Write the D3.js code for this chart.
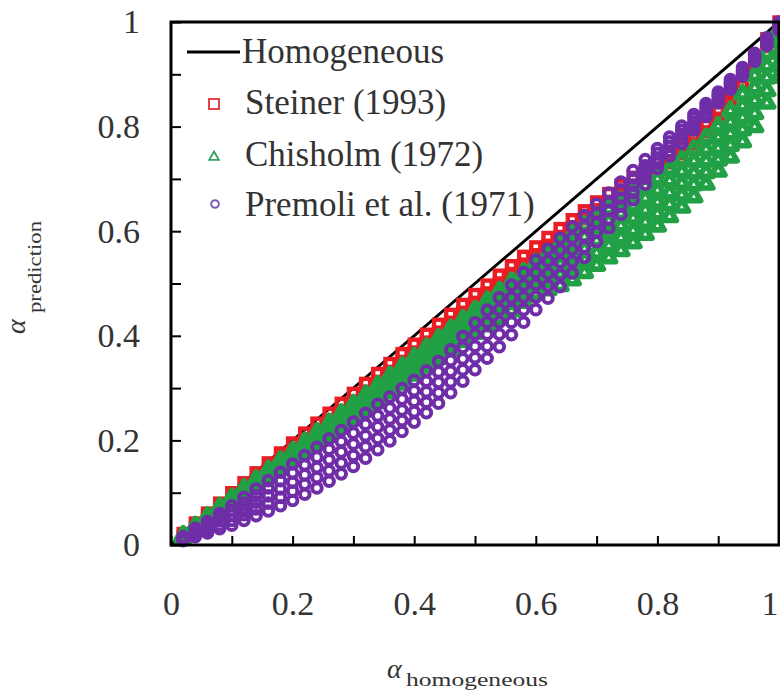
<!DOCTYPE html>
<html><head><meta charset="utf-8">
<script src="https://cdn.jsdelivr.net/npm/d3@7"></script>
<style>body{margin:0;background:#fff;} svg{display:block;}</style>
</head><body>
<svg id="chart" width="780" height="696"></svg>
<script>
// ---------- data ----------
const xGrid = [0.02,0.04,0.06,0.08,0.10,0.12,0.14,0.16,0.18,0.20,0.22,0.24,0.26,0.28,0.30,0.32,0.34,0.36,0.38,0.40,0.42,0.44,0.46,0.48,0.50,0.52,0.54,0.56,0.58,0.60,0.62,0.64,0.66,0.68,0.70,0.72,0.74,0.76,0.78,0.80,0.82,0.84,0.86,0.88,0.90,0.92,0.94,0.96,0.98,1.00];

const steinerUpper = [0.022,0.042,0.061,0.080,0.100,0.119,0.138,0.157,0.176,0.195,0.214,0.233,0.252,0.271,0.290,0.309,0.328,0.347,0.366,0.384,0.403,0.422,0.441,0.460,0.479,0.497,0.516,0.534,0.552,0.570,0.588,0.605,0.622,0.639,0.656,0.672,0.688,0.703,0.717,0.731,0.746,0.763,0.782,0.805,0.831,0.861,0.895,0.932,0.968,1.000];
const steinerLower = [0.015,0.032,0.050,0.068,0.086,0.104,0.123,0.142,0.161,0.180,0.199,0.218,0.237,0.256,0.275,0.294,0.313,0.332,0.351,0.369,0.388,0.407,0.426,0.445,0.464,0.482,0.501,0.519,0.537,0.555,0.573,0.590,0.607,0.624,0.641,0.657,0.673,0.688,0.702,0.716,0.731,0.748,0.767,0.790,0.816,0.846,0.880,0.917,0.953,0.990];

const chisholmRow1 = [0.014,0.030,0.046,0.063,0.080,0.096,0.112,0.128,0.145,0.162,0.177,0.193,0.208,0.224,0.240,0.257,0.274,0.291,0.308,0.325,0.341,0.357,0.373,0.389,0.405,0.419,0.433,0.448,0.464,0.480,0.488,0.496,0.507,0.521,0.535,0.549,0.563,0.578,0.594,0.610,0.628,0.646,0.666,0.690,0.715,0.742,0.771,0.800,0.845,0.895];
const chisholmRow2 = [0.015,0.032,0.048,0.065,0.083,0.099,0.115,0.132,0.149,0.166,0.182,0.199,0.214,0.231,0.247,0.265,0.282,0.299,0.316,0.334,0.350,0.367,0.383,0.400,0.416,0.431,0.446,0.462,0.478,0.495,0.505,0.516,0.529,0.544,0.558,0.572,0.587,0.601,0.617,0.633,0.651,0.669,0.689,0.712,0.736,0.764,0.794,0.825,0.869,0.918];
const chisholmRow3 = [0.016,0.033,0.050,0.068,0.085,0.102,0.119,0.136,0.153,0.171,0.187,0.204,0.221,0.238,0.255,0.272,0.290,0.307,0.325,0.342,0.359,0.376,0.393,0.410,0.427,0.443,0.459,0.476,0.493,0.510,0.523,0.536,0.550,0.566,0.582,0.596,0.610,0.625,0.640,0.655,0.673,0.691,0.711,0.734,0.758,0.786,0.817,0.849,0.893,0.940];
const chisholmRow4 = [0.017,0.035,0.052,0.070,0.088,0.105,0.122,0.139,0.157,0.175,0.192,0.210,0.227,0.244,0.262,0.280,0.297,0.315,0.333,0.351,0.368,0.386,0.403,0.421,0.438,0.455,0.472,0.489,0.507,0.524,0.540,0.555,0.572,0.589,0.605,0.619,0.634,0.648,0.663,0.678,0.696,0.714,0.734,0.756,0.779,0.808,0.839,0.874,0.916,0.963];
const chisholmRow5 = [0.018,0.036,0.054,0.072,0.090,0.108,0.125,0.143,0.161,0.179,0.197,0.215,0.233,0.251,0.269,0.287,0.305,0.323,0.341,0.359,0.377,0.395,0.413,0.431,0.449,0.467,0.485,0.503,0.521,0.539,0.557,0.575,0.593,0.611,0.628,0.642,0.657,0.671,0.686,0.700,0.718,0.736,0.756,0.778,0.800,0.830,0.862,0.898,0.940,0.985];

const premoliRow1 = [0.008,0.016,0.023,0.031,0.038,0.047,0.056,0.065,0.075,0.085,0.097,0.109,0.122,0.136,0.150,0.166,0.182,0.199,0.217,0.235,0.253,0.271,0.291,0.313,0.335,0.357,0.379,0.402,0.426,0.450,0.472,0.494,0.520,0.550,0.580,0.606,0.632,0.660,0.690,0.720,0.744,0.768,0.793,0.819,0.845,0.871,0.897,0.925,0.955,0.985];
const premoliRow2 = [0.010,0.020,0.029,0.038,0.047,0.058,0.069,0.080,0.091,0.103,0.116,0.129,0.142,0.157,0.171,0.188,0.204,0.220,0.238,0.255,0.273,0.291,0.312,0.335,0.358,0.380,0.403,0.426,0.450,0.474,0.496,0.517,0.542,0.570,0.598,0.623,0.648,0.674,0.702,0.730,0.753,0.776,0.801,0.825,0.850,0.876,0.901,0.929,0.959,0.989];
const premoliRow3 = [0.012,0.024,0.034,0.046,0.057,0.069,0.082,0.094,0.107,0.120,0.134,0.148,0.163,0.178,0.193,0.209,0.226,0.241,0.258,0.275,0.293,0.311,0.332,0.356,0.380,0.403,0.426,0.450,0.474,0.498,0.519,0.541,0.565,0.590,0.616,0.640,0.663,0.688,0.714,0.739,0.762,0.785,0.808,0.832,0.856,0.881,0.905,0.933,0.963,0.993];
const premoliRow4 = [0.014,0.028,0.040,0.053,0.066,0.080,0.094,0.109,0.123,0.138,0.153,0.168,0.183,0.198,0.214,0.231,0.247,0.262,0.279,0.295,0.313,0.331,0.353,0.378,0.403,0.426,0.450,0.473,0.497,0.521,0.543,0.564,0.587,0.610,0.634,0.656,0.679,0.702,0.725,0.749,0.771,0.793,0.816,0.838,0.861,0.885,0.909,0.936,0.966,0.996];
const premoliRow5 = [0.016,0.032,0.045,0.060,0.075,0.091,0.107,0.123,0.139,0.155,0.171,0.187,0.203,0.219,0.235,0.252,0.269,0.283,0.299,0.315,0.333,0.351,0.373,0.399,0.425,0.449,0.473,0.497,0.521,0.545,0.566,0.587,0.609,0.630,0.652,0.673,0.694,0.716,0.737,0.758,0.780,0.801,0.823,0.844,0.866,0.890,0.913,0.940,0.970,1.000];

const homogeneousX = [0, 1];
const homogeneousY = [0, 1];

const axisTicks = [0,0.1,0.2,0.3,0.4,0.5,0.6,0.7,0.8,0.9,1.0];
const majorTicks = [0,0.2,0.4,0.6,0.8,1.0];
const majorLabels = ["0","0.2","0.4","0.6","0.8","1"];

const seriesNames = ["Homogeneous","Steiner (1993)","Chisholm (1972)","Premoli et al. (1971)"];

// ---------- drawing ----------
const svg = d3.select('#chart');
const FONT = '"Liberation Serif","Times New Roman",serif';
const TXT = '#333';
const RED = '#ea1c24', GREEN = '#22a045', PURPLE = '#6f2da8';

const x = d3.scaleLinear().domain([0,1]).range([171,779]);
const y = d3.scaleLinear().domain([0,1]).range([545,22]);

function labelFor(d){
  const i = majorTicks.findIndex(m => Math.abs(m-d) < 1e-9);
  return i >= 0 ? majorLabels[i] : '';
}

// axes
const gx = svg.append('g').attr('transform','translate(0,545)')
  .call(d3.axisBottom(x).tickValues(axisTicks).tickSize(-9).tickPadding(46).tickFormat(labelFor));
const gy = svg.append('g').attr('transform','translate(171,0)')
  .call(d3.axisLeft(y).tickValues(axisTicks).tickSize(-10).tickPadding(31).tickFormat(labelFor));
[gx, gy].forEach(g => {
  g.select('.domain').remove();
  g.selectAll('.tick line').attr('stroke','#000').attr('stroke-width',2);
  g.selectAll('.tick text').attr('fill',TXT).style('font-family',FONT).style('font-size','34px');
});
// keep the last x label fully inside the picture
gx.selectAll('.tick text').filter(d => d === 1).attr('text-anchor','end').attr('dx','-1');

// homogeneous line
const lineGen = d3.line().x(d => x(d[0])).y(d => y(d[1]));
svg.append('path')
  .datum(homogeneousX.map((v,i)=>[v, homogeneousY[i]]))
  .attr('d', lineGen).attr('fill','none').attr('stroke','#000').attr('stroke-width',3);

function rowsToPoints(rows){
  return rows.flatMap(r => xGrid.map((xv,i) => [xv, r[i]]));
}

const gPts = svg.append('g');
// Steiner: open squares
gPts.append('g').selectAll('rect')
  .data(rowsToPoints([steinerLower, steinerUpper]))
  .join('rect')
  .attr('x', d => x(d[0]) - 4.5).attr('y', d => y(d[1]) - 4.5)
  .attr('width', 9).attr('height', 9)
  .attr('fill','none').attr('stroke', RED).attr('stroke-width', 4.4);

// Chisholm: open triangles
const tri = d3.symbol().type(d3.symbolTriangle).size(80);
gPts.append('g').selectAll('path')
  .data(rowsToPoints([chisholmRow1, chisholmRow2, chisholmRow3, chisholmRow4, chisholmRow5]))
  .join('path')
  .attr('d', tri)
  .attr('transform', d => `translate(${x(d[0])},${y(d[1])})`)
  .attr('fill','none').attr('stroke', GREEN).attr('stroke-width', 5.6)
  .attr('stroke-linejoin','round');

// Premoli: open circles
gPts.append('g').selectAll('circle')
  .data(rowsToPoints([premoliRow1, premoliRow2, premoliRow3, premoliRow4, premoliRow5]))
  .join('circle')
  .attr('cx', d => x(d[0])).attr('cy', d => y(d[1])).attr('r', 4.8)
  .attr('fill','none').attr('stroke', PURPLE).attr('stroke-width', 4);

// frame
svg.append('rect').attr('x',171).attr('y',22).attr('width',608).attr('height',523)
  .attr('fill','none').attr('stroke','#000').attr('stroke-width',3);

// legend
const lg = svg.append('g').style('font-family',FONT).style('font-size','35px').attr('fill',TXT);
lg.append('line').attr('x1',187).attr('x2',240).attr('y1',52).attr('y2',52)
  .attr('stroke','#000').attr('stroke-width',3);
lg.append('text').attr('x',242).attr('y',63).text(seriesNames[0]);
lg.append('rect').attr('x',209).attr('y',99).attr('width',10).attr('height',10)
  .attr('fill','none').attr('stroke','#e4434a').attr('stroke-width',2);
lg.append('text').attr('x',245).attr('y',114).text(seriesNames[1]);
lg.append('path').attr('d', d3.symbol().type(d3.symbolTriangle).size(40))
  .attr('transform','translate(214,157)')
  .attr('fill','none').attr('stroke','#35a063').attr('stroke-width',1.8);
lg.append('text').attr('x',245).attr('y',166).text(seriesNames[2]);
lg.append('circle').attr('cx',215).attr('cy',204).attr('r',3.8)
  .attr('fill','none').attr('stroke','#7d5bb3').attr('stroke-width',2);
lg.append('text').attr('x',245).attr('y',216).text(seriesNames[3]);

// axis titles
const xt = svg.append('text').attr('x',387).attr('y',678).attr('fill',TXT).style('font-family',FONT);
xt.append('tspan').style('font-style','italic').style('font-size','28px').text('α');
xt.append('tspan').attr('x',406).attr('y',686).style('font-size','18px')
  .attr('textLength',142).attr('lengthAdjust','spacingAndGlyphs').text('homogeneous');

const yt = svg.append('text').attr('transform','translate(25,334) rotate(-90)').attr('fill',TXT).style('font-family',FONT);
yt.append('tspan').attr('x',0).attr('y',0).style('font-style','italic').style('font-size','28px').text('α');
yt.append('tspan').attr('x',21).attr('y',16).style('font-size','18px')
  .attr('textLength',92).attr('lengthAdjust','spacingAndGlyphs').text('prediction');
</script>
</body></html>
